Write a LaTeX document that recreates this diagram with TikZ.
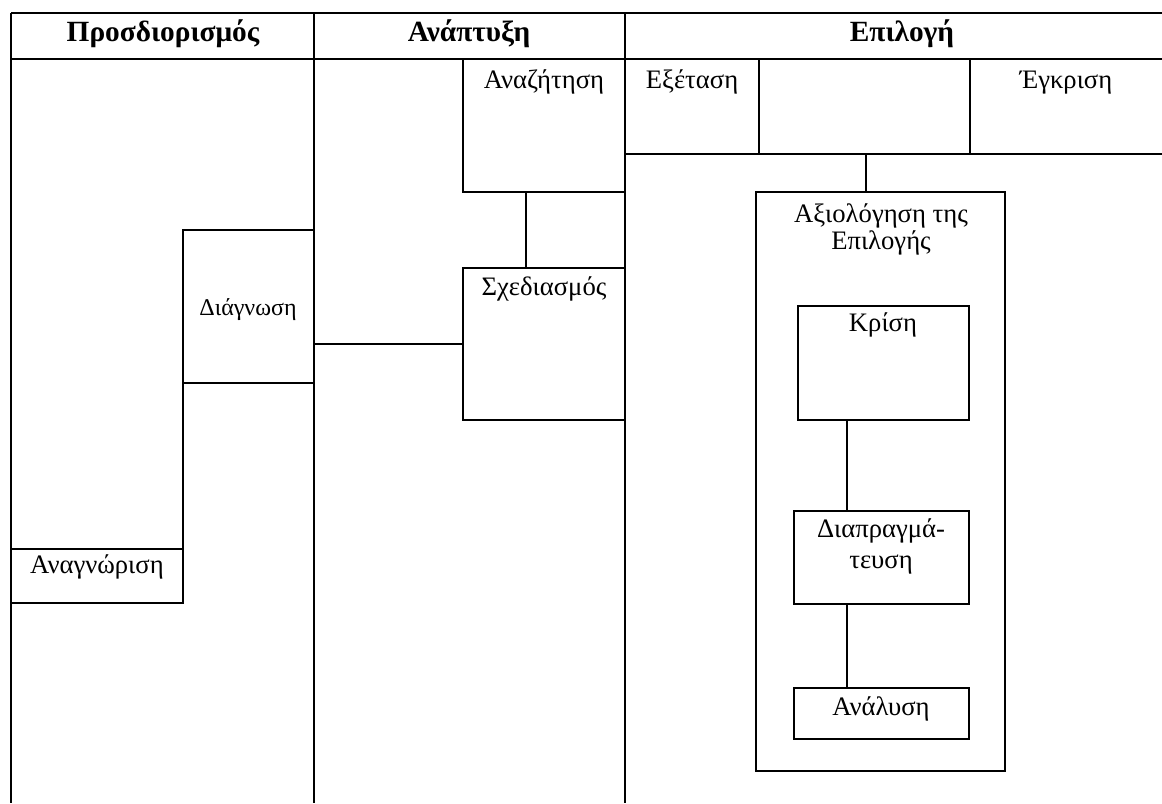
\documentclass[tikz,border=0pt]{standalone}
\usepackage{fontspec}
\setmainfont{Liberation Serif}
\usetikzlibrary{fit,calc}
\begin{document}
\begin{tikzpicture}[x=0.75pt,y=-0.75pt,
  line width=1.1pt,
  cell/.style={draw, rectangle, inner sep=0pt, outer sep=0pt},
  txt/.style={anchor=base, inner sep=0pt, align=center,
              font=\fontsize{20}{20.25}\selectfont},
  small/.style={txt, font=\fontsize{18}{20}\selectfont},
  head/.style={txt, font=\fontsize{22}{24}\selectfont\bfseries}]
\useasboundingbox (0,0) rectangle (1162,803);

% table frame and column rules
\draw (11,13) -- (1162,13);
\draw (11,59) -- (1162,59);
\draw (11,13) -- (11,803);
\draw (314,13) -- (314,803);
\draw (625,13) -- (625,803);

% column headings
\node[head] (h1) at (163,41) {Προσδιορισμός};
\node[head] (h2) at (469,41) {Ανάπτυξη};
\node[head] (h3) at (902,41) {Επιλογή};

% first column
\node[cell, fit={(183,230) (314,383)}] (diag) {};
\node[small] (diag-t) at (248,315) {Διάγνωση};
\draw (diag.south west) -- (183,603);
\node[cell, fit={(11,549) (183,603)}] (anag) {};
\node[txt] (anag-t) at (97,573) {Αναγνώριση};

% second column
\node[cell, fit={(463,59) (625,192)}] (anaz) {};
\node[txt] (anaz-t) at (544,88) {Αναζήτηση};
\node[cell, fit={(463,268) (625,420)}] (sxed) {};
\node[txt] (sxed-t) at (544,295) {Σχεδιασμός};
\coordinate (c1) at (526,192);
\draw (c1) -- (c1 |- sxed.north);
\coordinate (c2) at (314,344);
\draw (c2) -- (sxed.west);

% third column, top row
\draw (625,154) -- (1162,154);
\node[cell, fit={(625,59) (759,154)}] (ekse) {};
\node[txt] (ekse-t) at (692,88) {Εξέταση};
\draw (970,59) -- (970,154);
\node[txt] (egkr-t) at (1066,88) {Έγκριση};

% evaluation block
\node[cell, fit={(756,192) (1005,771)}] (axio) {};
\node[txt] (axio-t) at (881,249) {Αξιολόγηση της\\Επιλογής};
\coordinate (c3) at (866,154);
\draw (c3) -- (c3 |- axio.north);

\node[cell, fit={(798,306) (969,420)}] (kris) {};
\node[txt] (kris-t) at (883,331) {Κρίση};
\node[cell, fit={(794,511) (969,604)}] (diap) {};
\node[txt] (diap-t) at (881,568) {Διαπραγμά-\\[3pt]τευση};
\node[cell, fit={(794,688) (969,739)}] (anal) {};
\node[txt] (anal-t) at (881,715) {Ανάλυση};

\coordinate (c4) at (847,420);
\draw (c4) -- (c4 |- diap.north);
\coordinate (c5) at (847,604);
\draw (c5) -- (c5 |- anal.north);
\end{tikzpicture}
\end{document}
